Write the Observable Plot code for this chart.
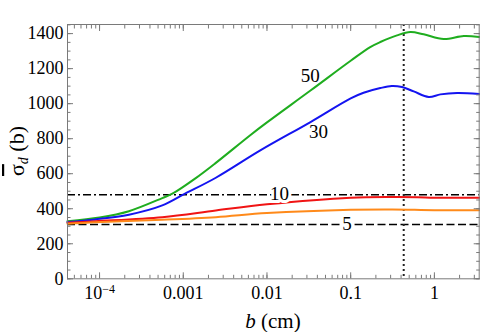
<!DOCTYPE html>
<html><head><meta charset="utf-8">
<script src="https://cdn.jsdelivr.net/npm/d3@7"></script>
<script src="https://cdn.jsdelivr.net/npm/@observablehq/plot@0.6"></script>
<style>
body{margin:0;background:#fff}
</style>
</head><body><div id="chart"></div>
<script>
// Series: values of sigma_d (b) against b (cm)
const b50 = [4.14e-5, 1e-4, 2.24e-4, 5.62e-4, 7.41e-4, 1.41e-3, 2.45e-3, 6.31e-3, 0.01, 0.0331, 0.1, 0.171, 0.226, 0.358, 0.516, 0.745, 1.29, 2.24, 3.43];
const v50 = [329, 350, 386, 461, 486, 575, 662, 820, 893, 1075, 1245, 1323, 1352, 1390, 1409, 1396, 1369, 1386, 1381];
const b30 = [4.14e-5, 8.91e-5, 2.24e-4, 5.62e-4, 1.05e-3, 2.45e-3, 8.32e-3, 0.0331, 0.1, 0.1426, 0.226, 0.309, 0.41, 0.566, 0.855, 1.18, 1.87, 3.43];
const v30 = [324, 339, 366, 419, 486, 577, 733, 895, 1030, 1062, 1089, 1101, 1095, 1070, 1038, 1053, 1061, 1055];
const b10 = [4.14e-5, 8.91e-5, 5.62e-4, 2.45e-3, 0.01, 0.1, 0.316, 0.631, 1.0, 3.43];
const v10 = [320, 329, 352, 390, 425, 463, 467, 466, 463, 463];
const b5 = [4.14e-5, 8.91e-5, 5.62e-4, 2.45e-3, 0.01, 0.1, 0.316, 1.0, 3.43];
const v5 = [314, 323, 337, 352, 375, 394, 396, 392, 392];
const seriesNames = ["50", "30", "10", "5"];
const seriesColors = ["#1fad1f", "#1414f0", "#f01414", "#ff8a1a"];

// Reference lines
const refDashDot = 480;   // 10
const refDashed = 310;    // 5
const bMarker = 0.43;

// In-plot labels
const labelText = ["50", "30"];
const labelB = [0.0329, 0.0413];
const labelV = [1156, 838];
const haloText = ["10", "5"];
const haloB = [0.0141, 0.0902];
const haloV = [486, 314];

// Axes
const xDomain = [4.14e-5, 3.43];
const yDomain = [0, 1452];
const xMajor = [1e-4, 1e-3, 1e-2, 1e-1, 1];
const xTickLabels = ["10⁻⁴", "0.001", "0.01", "0.1", "1"];
const yMajor = [0, 200, 400, 600, 800, 1000, 1200, 1400];
const yMinor = d3.range(0, 1451, 50);
const xMinor = [];
for (let e = -5; e <= 0; e++) for (let k = 1; k <= 9; k++) {
  const v = k * Math.pow(10, e);
  if (v >= xDomain[0] && v <= xDomain[1]) xMinor.push(v);
}

const bs = [b50, b30, b10, b5], vs = [v50, v30, v10, v5];
const rows = [];
bs.forEach((arr, i) => arr.forEach((b, j) => rows.push({b, v: vs[i][j], s: seriesNames[i]})));

const FONT = "Liberation Serif";
const FS = 18;
const tickColor = "#7a7a7a";
const chart = Plot.plot({
  width: 480, height: 332,
  marginLeft: 67, marginRight: 1.3, marginTop: 24, marginBottom: 53.7,
  style: {fontSize: FS + "px", fontFamily: FONT, background: "#fff", overflow: "visible"},
  x: {type: "log", domain: xDomain},
  y: {domain: yDomain},
  color: {domain: seriesNames, range: seriesColors},
  marks: [
    Plot.ruleY([refDashDot], {stroke: "black", strokeWidth: 1.5, strokeDasharray: "8,3,2,3"}),
    Plot.ruleY([refDashed], {stroke: "black", strokeWidth: 1.5, strokeDasharray: "8,3.5"}),
    Plot.ruleX([bMarker], {stroke: "#222", strokeWidth: 2, strokeDasharray: "2,3"}),
    Plot.line(rows, {x: "b", y: "v", z: "s", stroke: "s", strokeWidth: 2, curve: "catmull-rom"}),
    Plot.text(labelText.map((t, i) => ({t, b: labelB[i], v: labelV[i]})), {x: "b", y: "v", text: "t", fill: "black", fontSize: 19, fontFamily: FONT}),
    Plot.text(haloText.map((t, i) => ({t, b: haloB[i], v: haloV[i]})), {x: "b", y: "v", text: "t", fill: "black", fontSize: 19, fontFamily: FONT, stroke: "white", strokeWidth: 6}),
    Plot.frame({stroke: tickColor}),
    // minor ticks (inward)
    Plot.axisY({ticks: yMinor, anchor: "left", tickSize: -3.5, stroke: tickColor, fill: "none", label: null}),
    Plot.axisY({ticks: yMinor, anchor: "right", tickSize: -3.5, stroke: tickColor, fill: "none", label: null}),
    Plot.axisX({ticks: xMinor, anchor: "bottom", tickSize: -3.5, stroke: tickColor, fill: "none", label: null}),
    Plot.axisX({ticks: xMinor, anchor: "top", tickSize: -3.5, stroke: tickColor, fill: "none", label: null}),
    // major ticks (inward)
    Plot.axisY({ticks: yMajor, anchor: "left", tickSize: -6, stroke: tickColor, fill: "none", label: null}),
    Plot.axisY({ticks: yMajor, anchor: "right", tickSize: -6, stroke: tickColor, fill: "none", label: null}),
    Plot.axisX({ticks: xMajor, anchor: "bottom", tickSize: -6, stroke: tickColor, fill: "none", label: null}),
    Plot.axisX({ticks: xMajor, anchor: "top", tickSize: -6, stroke: tickColor, fill: "none", label: null}),
    // tick labels
    Plot.axisY({ticks: yMajor, anchor: "left", tickSize: 0, tickPadding: 4, stroke: "none", fill: "black", label: null,
      fontSize: FS, fontFamily: FONT, tickFormat: d => String(d)}),
    Plot.axisX({ticks: xMajor, anchor: "bottom", tickSize: 0, tickPadding: 7, stroke: "none", fill: "black", label: null,
      fontSize: FS, fontFamily: FONT, tickFormat: d => xTickLabels[xMajor.indexOf(d)]})
  ]
});
document.getElementById("chart").appendChild(chart);

const svg = d3.select(chart);
// superscript for 10^-4
svg.selectAll("text").each(function() {
  if (this.textContent === "10⁻⁴") {
    const t = d3.select(this);
    t.text("10");
    t.append("tspan").attr("dy", "-0.45em").attr("font-size", "12px").text("−4");
  }
});
// x axis title
const xt = svg.append("text").attr("x", 273).attr("y", 328).attr("text-anchor", "middle")
  .attr("font-size", 21).attr("font-family", FONT).attr("fill", "black");
xt.append("tspan").attr("font-style", "italic").text("b");
xt.append("tspan").text(" (cm)");
// y axis title
const yt = svg.append("text").attr("transform", "translate(24,151) rotate(-90)").attr("text-anchor", "middle")
  .attr("font-size", 22).attr("font-family", FONT).attr("fill", "black");
yt.append("tspan").attr("style", "text-decoration: overline").text("σ");
yt.append("tspan").attr("font-style", "italic").attr("font-size", 14).attr("dy", 4).text("d");
yt.append("tspan").attr("dy", -4).text(" (b)");
</script>
</body></html>
